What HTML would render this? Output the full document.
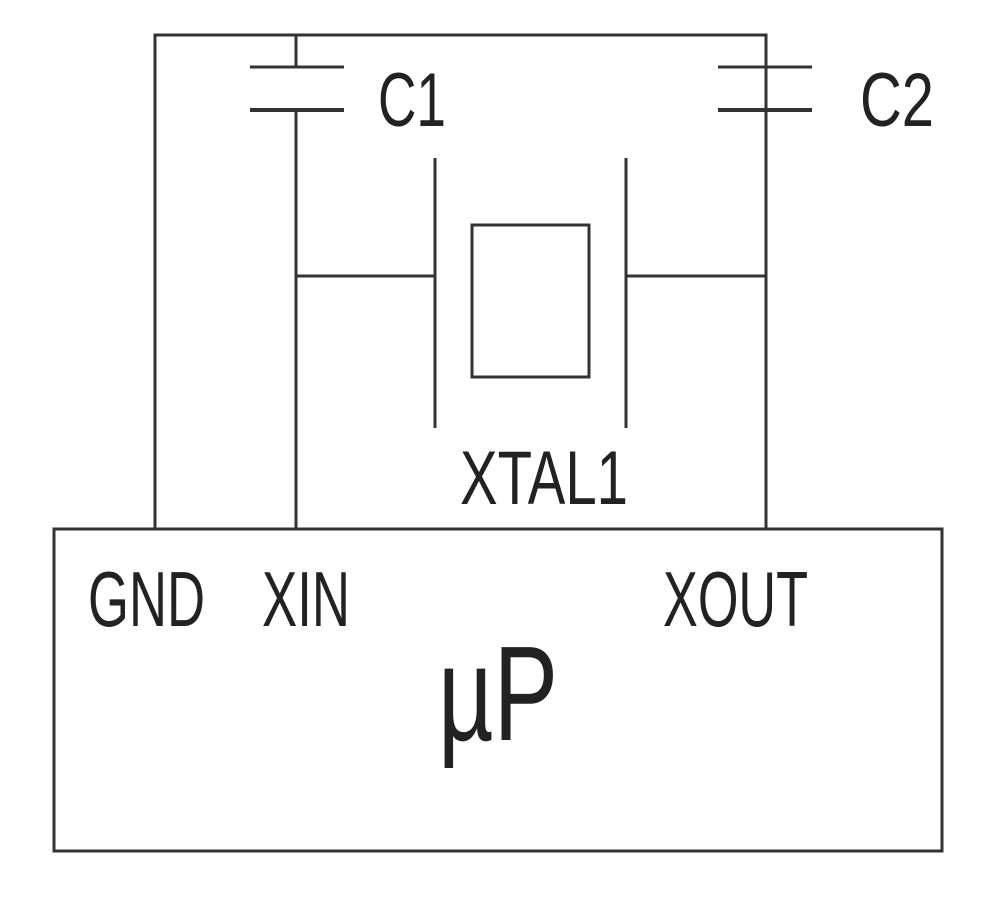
<!DOCTYPE html>
<html><head><style>html,body{margin:0;padding:0;background:#fff;}</style></head>
<body>
<svg width="1000" height="901" viewBox="0 0 1000 901" xmlns="http://www.w3.org/2000/svg">
<g stroke="#333" stroke-width="3" fill="none">
<polyline points="155,528 155,35 766,35 766,110"/>
<line x1="296" y1="35" x2="296" y2="67"/>
<line x1="250" y1="67" x2="344" y2="67"/>
<line x1="250" y1="110" x2="344" y2="110" stroke-width="4"/>
<line x1="296" y1="110" x2="296" y2="528"/>
<line x1="718" y1="67" x2="812" y2="67"/>
<line x1="718" y1="110" x2="812" y2="110" stroke-width="4"/>
<line x1="766" y1="110" x2="766" y2="528"/>
<line x1="296" y1="276" x2="435" y2="276"/>
<line x1="626" y1="276" x2="766" y2="276"/>
<line x1="435" y1="158" x2="435" y2="428"/>
<line x1="626" y1="158" x2="626" y2="428"/>
<rect x="472" y="225" width="117" height="152"/>
<rect x="54" y="529" width="888" height="322"/>
</g>
<g fill="#222" font-family="'Liberation Sans Narrow','Liberation Sans',sans-serif">
<text x="378" y="126" font-size="76" textLength="68" lengthAdjust="spacingAndGlyphs">C1</text>
<text x="860" y="126" font-size="76" textLength="74" lengthAdjust="spacingAndGlyphs">C2</text>
<text x="460" y="504" font-size="76" textLength="168" lengthAdjust="spacingAndGlyphs">XTAL1</text>
<text x="88" y="626" font-size="78" textLength="117" lengthAdjust="spacingAndGlyphs">GND</text>
<text x="262" y="626" font-size="78" textLength="88" lengthAdjust="spacingAndGlyphs">XIN</text>
<text x="663" y="626" font-size="78" textLength="145" lengthAdjust="spacingAndGlyphs">XOUT</text>
<text x="438" y="740" font-size="135" textLength="120" lengthAdjust="spacingAndGlyphs">µP</text>
</g>
</svg>
</body></html>
